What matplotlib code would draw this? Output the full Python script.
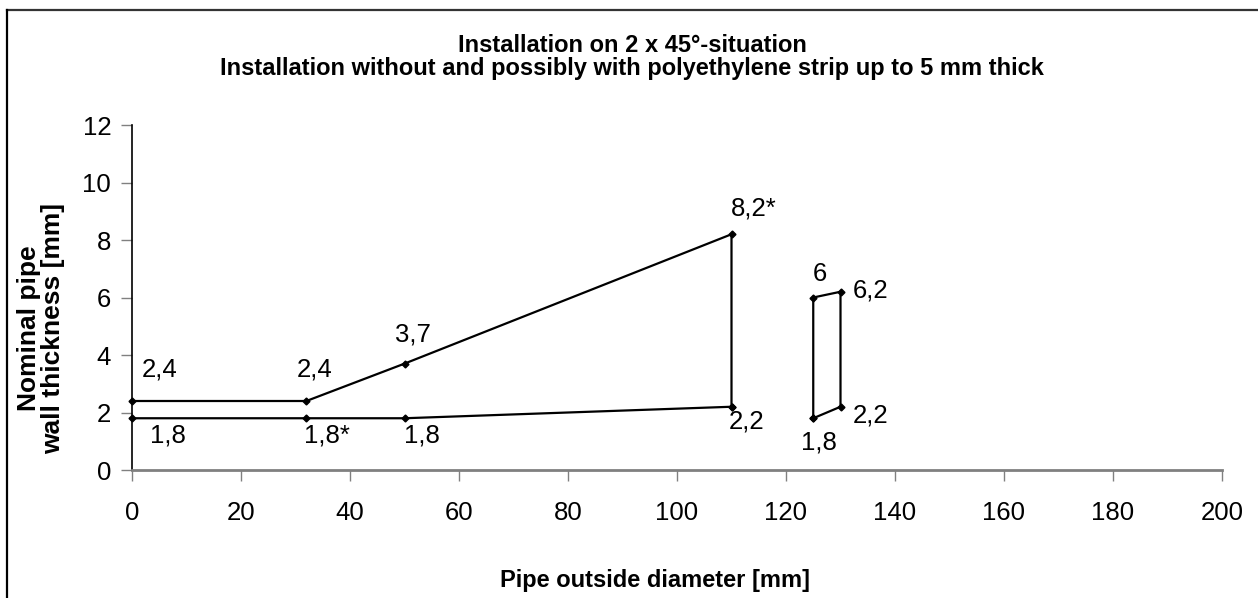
"""
pipe wall thickness chart:
	1. polyline for 0-110 mm range
	2. separate quad for 125-130 mm
"""

import matplotlib
matplotlib.use('Agg')
import matplotlib.pyplot as plt
from matplotlib.lines import Line2D

plt.rcParams['font.family'] = ['Liberation Sans', 'DejaVu Sans']

# upper bound (without strip)
upper_x = [0, 32, 50, 110]
upper_y = [2.4, 2.4, 3.7, 8.2]
upper_labels = ['2,4', '2,4', '3,7', '8,2*']

# lower bound
lower_x = [0, 32, 50, 110]
lower_y = [1.8, 1.8, 1.8, 2.2]
lower_labels = ['1,8', '1,8*', '1,8', '2,2']

# separate quad for 125/130 mm
quad_x = [125, 125, 130, 130, 125]
quad_y = [1.8, 6, 6.2, 2.2, 1.8]
quad_labels = ['1,8', '6', '6,2', '2,2']

x_ticks = list(range(0, 201, 20))
y_ticks = list(range(0, 13, 2))

title_lines = ['Installation on 2 x 45°-situation',
			   'Installation without and possibly with polyethylene strip up to 5 mm thick']
x_label = 'Pipe outside diameter [mm]'
y_label = 'Nominal pipe\nwall thickness [mm]'

# label offsets in pixels (label centre relative to point)
upper_offsets = [(28, 31), (8, 31), (8, 29), (22, 26)]
lower_offsets = [(36, -17), (21, -17), (17, -17), (15, -15)]
quad_offsets = [(6, -24), (7, 24), (30, 1), (30, -9)]


def draw_labels(ax, xs, ys, labels, offsets) -> None:
	for x, y, text, (dx, dy) in zip(xs, ys, labels, offsets):
		ax.annotate(text, (x, y), xytext=(dx, dy), textcoords='offset pixels',
					ha='center', va='center', fontsize=18.5)


def main() -> None:
	fig = plt.figure(figsize=(12.58, 5.98), dpi=100)
	ax = fig.add_axes([132 / 1258, 1 - 470 / 598, 1090 / 1258, 345 / 598])

	line_style = dict(color='black', linewidth=1.6, marker='D', markersize=3.5, clip_on=False)
	ax.plot(upper_x + [upper_x[-1]], upper_y + [lower_y[-1]], **line_style)
	ax.plot(lower_x, lower_y, **line_style)
	ax.plot(quad_x, quad_y, **line_style)

	draw_labels(ax, upper_x, upper_y, upper_labels, upper_offsets)
	draw_labels(ax, lower_x, lower_y, lower_labels, lower_offsets)
	draw_labels(ax, quad_x[:4], quad_y[:4], quad_labels, quad_offsets)

	ax.set_xlim(0, 200)
	ax.set_ylim(0, 12)
	ax.set_xticks(x_ticks)
	ax.set_yticks(y_ticks)
	ax.tick_params(axis='both', direction='out', length=8, width=1, labelsize=18.5)
	ax.tick_params(axis='x', colors='#808080', labelcolor='black', pad=14)
	ax.tick_params(axis='y', colors='#808080', labelcolor='black', pad=7)

	ax.spines['top'].set_visible(False)
	ax.spines['right'].set_visible(False)
	ax.spines['bottom'].set_color('#808080')
	ax.spines['bottom'].set_linewidth(2)
	ax.spines['left'].set_color('black')
	ax.spines['left'].set_linewidth(1.2)

	for line, y in zip(title_lines, [45, 68]):
		fig.text(632 / 1258, 1 - y / 598, line, ha='center', va='center', fontsize=17,
				 fontweight='bold')
	fig.text(41 / 1258, 1 - 328 / 598, y_label, ha='center', va='center', rotation=90,
			 fontsize=19, fontweight='bold', linespacing=1.0)
	fig.text(655 / 1258, 1 - 580 / 598, x_label, ha='center', va='center', fontsize=17,
			 fontweight='bold')

	# outer chart frame (only top and left visible)
	fig.add_artist(Line2D([7 / 1258, 1], [1 - 10 / 598, 1 - 10 / 598], color='#333333',
						  linewidth=1.6, transform=fig.transFigure))
	fig.add_artist(Line2D([7 / 1258, 7 / 1258], [0, 1 - 10 / 598], color='black',
						  linewidth=1.6, transform=fig.transFigure))

	fig.savefig('out.png', dpi=100)


if __name__ == '__main__':
	main()
